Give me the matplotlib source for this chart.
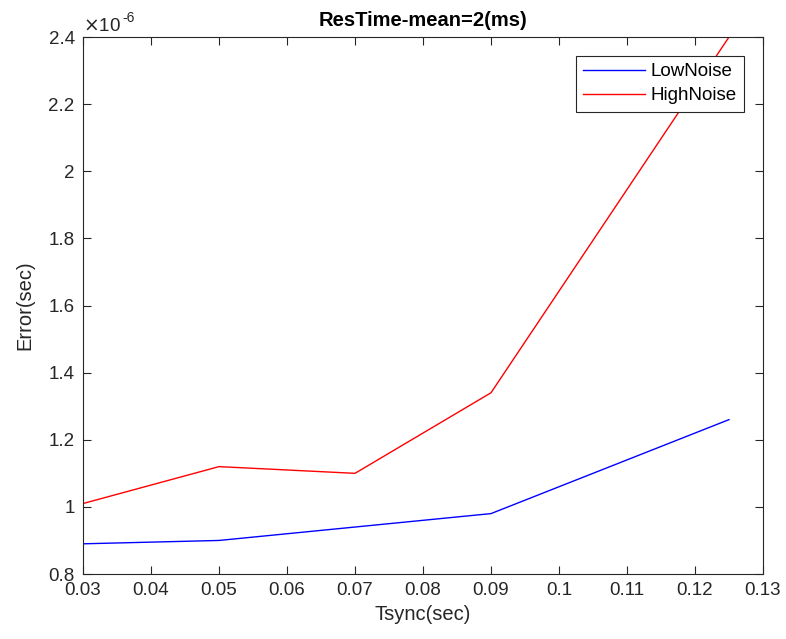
import matplotlib
matplotlib.use("Agg")
import matplotlib.pyplot as plt
from matplotlib.ticker import FuncFormatter

plt.rcParams['font.family'] = ['Liberation Sans', 'DejaVu Sans']

tsync = [0.03, 0.05, 0.07, 0.09, 0.125]
low_noise = [0.89, 0.90, 0.94, 0.98, 1.26]    # x 1e-6 sec
high_noise = [1.01, 1.12, 1.10, 1.34, 2.40]   # x 1e-6 sec
scale = 1e-6

xticks = [0.03, 0.04, 0.05, 0.06, 0.07, 0.08, 0.09, 0.1, 0.11, 0.12, 0.13]
yticks = [0.8, 1.0, 1.2, 1.4, 1.6, 1.8, 2.0, 2.2, 2.4]

gray = '#262626'

fig = plt.figure(figsize=(7.86, 6.39), dpi=100)
ax = fig.add_axes([0.1056, 0.1017, 0.8651, 0.8403])

ax.plot(tsync, [v * scale for v in low_noise], color='#0000ff', lw=1.0, label='LowNoise')
ax.plot(tsync, [v * scale for v in high_noise], color='#ff0000', lw=1.0, label='HighNoise')

ax.set_xlim(0.03, 0.13)
ax.set_ylim(0.8 * scale, 2.4 * scale)
ax.set_xticks(xticks)
ax.set_yticks([v * scale for v in yticks])
ax.xaxis.set_major_formatter(FuncFormatter(lambda v, p: '%g' % round(v, 3)))
ax.yaxis.set_major_formatter(FuncFormatter(lambda v, p: '%g' % round(v / scale, 3)))

ax.tick_params(direction='in', top=True, right=True, length=6, width=0.8,
               colors=gray, labelsize=13.5, pad=6)
for s in ax.spines.values():
    s.set_color(gray)
    s.set_linewidth(0.8)

ax.set_xlabel('Tsync(sec)', fontsize=14.5, color=gray, labelpad=4)
ax.set_ylabel('Error(sec)', fontsize=14.5, color=gray, labelpad=10)
ax.set_title('ResTime-mean=2(ms)', fontsize=14.5, fontweight='bold', color='black', pad=8)

# exponent label, MATLAB style
ax.text(0.0, 1.004, r'$\times$10', transform=ax.transAxes, fontsize=13.5,
        color=gray, ha='left', va='bottom')
ax.text(0.058, 1.022, '-6', transform=ax.transAxes, fontsize=10,
        color=gray, ha='left', va='bottom')

leg = ax.legend(loc='upper right', fontsize=13.5, fancybox=False, framealpha=1,
                edgecolor=gray, borderaxespad=1.0, handlelength=3.3,
                handletextpad=0.3, borderpad=0.4, labelspacing=0.35)
leg.get_frame().set_linewidth(0.8)

fig.savefig('out.png', dpi=100)
